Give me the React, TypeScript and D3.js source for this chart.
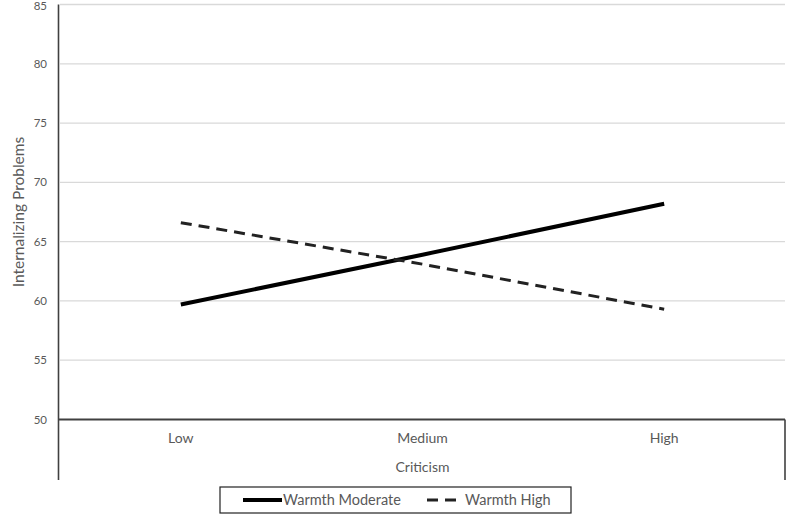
import React from "react";
import * as d3 from "d3";

const categories = ["Low", "Medium", "High"];
const warmthModerate = [59.7, 63.9, 68.2];
const warmthHigh = [66.6, 63.1, 59.3];
const yTicks = [50, 55, 60, 65, 70, 75, 80, 85];
const seriesNames = ["Warmth Moderate", "Warmth High"];

const W = 800, H = 520;
const left = 60, right = 785, top = 4.5, bottom = 419.5;
const FONT = "Lato, 'Open Sans', sans-serif";
const GRAY = "#595959";

export default function App() {
  const x = d3.scalePoint<string>().domain(categories).range([left, right]).padding(0.5);
  const y = d3.scaleLinear().domain([50, 85]).range([bottom, top]);
  const line = d3.line<number>().x((_, i) => x(categories[i]) as number).y((d) => y(d));

  return (
    <svg width={W} height={H} style={{ position: "absolute", left: 0, top: 0, background: "#fff" }} fontFamily={FONT}>
      <rect x={0} y={0} width={W} height={H} fill="#fff" />
      {yTicks.map((t) => (
        <g key={t}>
          {t !== 50 && (
            <line x1={left} x2={right} y1={y(t)} y2={y(t)} stroke="#d9d9d9" strokeWidth={1.3} />
          )}
          <text x={47} y={Math.max(y(t), 6)} dy="0.35em" textAnchor="end" fontSize={11.5} fill={GRAY}>
            {t}
          </text>
        </g>
      ))}
      {/* axes */}
      <line x1={left - 1.5} x2={left - 1.5} y1={top} y2={480} stroke="#404040" strokeWidth={1.6} />
      <line x1={left - 1.5} x2={right} y1={bottom} y2={bottom} stroke="#404040" strokeWidth={1.8} />
      <line x1={right} x2={right} y1={bottom} y2={480} stroke="#404040" strokeWidth={1.6} />
      {categories.map((c) => (
        <text key={c} x={x(c) as number} y={443} textAnchor="middle" fontSize={14} fill={GRAY}>
          {c}
        </text>
      ))}
      <text x={(left + right) / 2} y={472} textAnchor="middle" fontSize={14} fill={GRAY}>
        Criticism
      </text>
      <text
        transform={`translate(24, ${(top + bottom) / 2}) rotate(-90)`}
        textAnchor="middle"
        fontSize={15.5}
        fill={GRAY}
      >
        Internalizing Problems
      </text>
      {/* lines */}
      <path d={line(warmthModerate) || ""} fill="none" stroke="#000" strokeWidth={4} strokeLinecap="butt" />
      <path d={line(warmthHigh) || ""} fill="none" stroke="#222" strokeWidth={3} strokeDasharray="11,7" />
      {/* legend */}
      <rect x={220} y={487} width={351} height={26} fill="#fff" stroke="#222" strokeWidth={1.2} />
      <line x1={243} x2={282} y1={500} y2={500} stroke="#000" strokeWidth={4} />
      <text x={283} y={500} dy="0.35em" fontSize={14.5} fill={GRAY}>
        {seriesNames[0]}
      </text>
      <line x1={427} x2={456} y1={500} y2={500} stroke="#222" strokeWidth={3} strokeDasharray="11,7" />
      <text x={465} y={500} dy="0.35em" fontSize={14.5} fill={GRAY}>
        {seriesNames[1]}
      </text>
    </svg>
  );
}
